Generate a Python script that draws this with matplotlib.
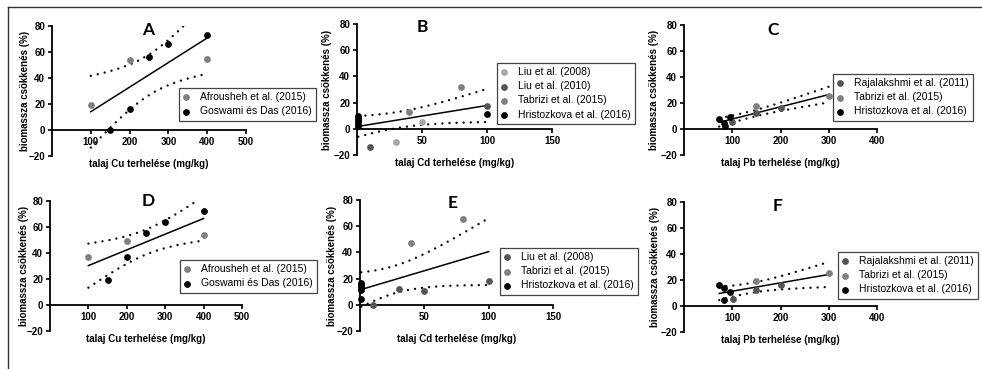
import numpy as np
import matplotlib
matplotlib.use("Agg")
import matplotlib.pyplot as plt
from matplotlib.lines import Line2D

plt.rcParams['font.family'] = ['Liberation Sans', 'DejaVu Sans']

W, H = 982, 369

# --- data ---
# A / D : Cu
cu_afr_x = [100, 200, 400]
a_afr_y = [19, 54, 54.5]
cu_gos_x = [150, 200, 250, 300, 400]
a_gos_y = [0, 16.5, 56, 66.5, 73]
d_afr_y = [37, 49, 53.5]
d_gos_y = [19.5, 37, 55.5, 63.5, 72.5]

# B : Cd
b_liu08_x = [30, 50]
b_liu08_y = [-10, 5.5]
b_liu10_x = [10, 100]
b_liu10_y = [-14, 17.5]
b_tab_x = [40, 80]
b_tab_y = [12.5, 32]
b_hri_x = [1, 1, 1, 1, 1, 1, 100]
b_hri_y = [9.5, 8, 7, 5, 3, 2, 11]

# E : Cd
e_liu08_x = [10, 30, 50, 100]
e_liu08_y = [0, 12, 10.5, 18]
e_tab_x = [40, 80]
e_tab_y = [47, 65.5]
e_hri_x = [1, 1, 1, 1, 1, 1]
e_hri_y = [17, 16, 14.5, 13, 11, 4.5]

# C / F : Pb
c_raj_x = [100, 150, 200]
c_raj_y = [5.5, 12, 16.5]
c_tab_x = [150, 300]
c_tab_y = [17.5, 25.5]
c_hri_x = [73, 83, 85, 95]
c_hri_y = [7.5, 4.5, 2, 9.5]
f_raj_x = [102, 150, 200]
f_raj_y = [5.5, 12, 16]
f_tab_x = [150, 300]
f_tab_y = [19, 25.5]
f_hri_x = [73, 83, 95, 83]
f_hri_y = [16.5, 14, 11, 4.5]

# 95% two sided t values by degrees of freedom
t95 = {6: 2.447, 7: 2.365, 10: 2.228, 11: 2.201}

GRAY = '#808080'
LIGHT = '#a8a8a8'
DARK = '#555555'
BLACK = '#000000'

ylab = 'biomassza csökkenés (%)'


def px_axes(l, t, r, b):
    return fig.add_axes([l / W, 1 - b / H, (r - l) / W, (b - t) / H])


def fit_band(ax, xs, ys):
    x = np.array(xs, dtype=float)
    y = np.array(ys, dtype=float)
    n = len(x)
    slope, icpt = np.polyfit(x, y, 1)
    res = y - (slope * x + icpt)
    s = np.sqrt(np.sum(res ** 2) / (n - 2))
    sxx = np.sum((x - x.mean()) ** 2)
    xx = np.linspace(x.min(), x.max(), 200)
    yy = slope * xx + icpt
    half = t95[n - 2] * s * np.sqrt(1 / n + (xx - x.mean()) ** 2 / sxx)
    ax.plot(xx, yy, color='black', lw=1.1, zorder=2)
    for band in (yy + half, yy - half):
        ax.plot(xx, band, color='black', lw=1.7, linestyle=(0, (0.01, 3.0)),
                dash_capstyle='round', zorder=2)


def setup(ax, xmax, xticks, xlab, letter, lx, ly, ypx):
    ax.set_xlim(0, xmax)
    ax.set_ylim(-20, 80)
    ax.spines['top'].set_visible(False)
    ax.spines['right'].set_visible(False)
    ax.spines['bottom'].set_position(('data', 0))
    for sp in ('left', 'bottom'):
        ax.spines[sp].set_linewidth(1.3)
    ax.set_xticks(xticks)
    ax.set_yticks([-20, 0, 20, 40, 60, 80])
    ax.tick_params(direction='out', length=3, width=1.2, labelsize=7, pad=2)
    for lab in ax.get_xticklabels() + ax.get_yticklabels():
        lab.set_fontweight('bold')
    ax.patch.set_alpha(0)
    ax.text(0.5, -0.02, xlab, transform=ax.transAxes, ha='center', va='top',
            fontsize=7, fontweight='bold')
    ax.text(-ypx / (ax.get_position().width * W), 0.5, ylab, transform=ax.transAxes,
            rotation=90, ha='center', va='center', fontsize=7, fontweight='bold')
    ax.text(lx, ly, letter, ha='center', va='center', fontsize=12.5,
            fontweight='bold', family=['Lato', 'DejaVu Sans'])


def dots(ax, x, y, c, label):
    ax.scatter(x, y, s=24, color=c, label=label, zorder=4, clip_on=False,
               linewidths=0)


def legend(ax, lpx, tpx):
    leg = ax.legend(loc='upper left', bbox_to_anchor=(lpx / W, 1 - tpx / H),
                    bbox_transform=fig.transFigure, borderaxespad=0,
                    fontsize=7.5, scatterpoints=1, handlelength=0.5,
                    handletextpad=1.1, labelspacing=0.4, borderpad=0.4,
                    fancybox=False, framealpha=1)
    leg.get_frame().set_edgecolor('#444444')
    leg.get_frame().set_linewidth(0.9)


fig = plt.figure(figsize=(W / 100, H / 100), dpi=100)
fig.patch.set_facecolor('white')

# A
ax = px_axes(52, 26, 246, 156)
dots(ax, cu_afr_x, a_afr_y, GRAY, 'Afrousheh et al. (2015)')
dots(ax, cu_gos_x, a_gos_y, BLACK, 'Goswami és Das (2016)')
fit_band(ax, cu_afr_x + cu_gos_x, a_afr_y + a_gos_y)
setup(ax, 500, [100, 200, 300, 400, 500], 'talaj Cu terhelése (mg/kg)', 'A', 247, 77, 27)
legend(ax, 179, 88)

# B
ax = px_axes(357, 24, 552, 155)
dots(ax, b_liu08_x, b_liu08_y, LIGHT, 'Liu et al. (2008)')
dots(ax, b_liu10_x, b_liu10_y, DARK, 'Liu et al. (2010)')
dots(ax, b_tab_x, b_tab_y, GRAY, 'Tabrizi et al. (2015)')
dots(ax, b_hri_x, b_hri_y, BLACK, 'Hristozkova et al. (2016)')
fit_band(ax, b_liu08_x + b_liu10_x + b_tab_x + b_hri_x,
         b_liu08_y + b_liu10_y + b_tab_y + b_hri_y)
setup(ax, 150, [50, 100, 150], 'talaj Cd terhelése (mg/kg)', 'B', 50.5, 77.5, 30)
legend(ax, 497, 63)

# C
ax = px_axes(684, 25, 877, 155)
dots(ax, c_raj_x, c_raj_y, DARK, 'Rajalakshmi et al. (2011)')
dots(ax, c_tab_x, c_tab_y, GRAY, 'Tabrizi et al. (2015)')
dots(ax, c_hri_x, c_hri_y, BLACK, 'Hristozkova et al. (2016)')
fit_band(ax, c_raj_x + c_tab_x + c_hri_x, c_raj_y + c_tab_y + c_hri_y)
setup(ax, 400, [100, 200, 300, 400], 'talaj Pb terhelése (mg/kg)', 'C', 184, 76.5, 30)
legend(ax, 833, 74)

# D
ax = px_axes(50, 201, 242, 331)
dots(ax, cu_afr_x, d_afr_y, GRAY, 'Afrousheh et al. (2015)')
dots(ax, cu_gos_x, d_gos_y, BLACK, 'Goswami és Das (2016)')
fit_band(ax, cu_afr_x + cu_gos_x, d_afr_y + d_gos_y)
setup(ax, 500, [100, 200, 300, 400, 500], 'talaj Cu terhelése (mg/kg)', 'D', 255, 80, 26)
legend(ax, 180, 260)

# E
ax = px_axes(360, 200, 553, 331)
dots(ax, e_liu08_x, e_liu08_y, DARK, 'Liu et al. (2008)')
dots(ax, e_tab_x, e_tab_y, GRAY, 'Tabrizi et al. (2015)')
dots(ax, e_hri_x, e_hri_y, BLACK, 'Hristozkova et al. (2016)')
fit_band(ax, e_liu08_x + e_tab_x + e_hri_x, e_liu08_y + e_tab_y + e_hri_y)
setup(ax, 150, [50, 100, 150], 'talaj Cd terhelése (mg/kg)', 'E', 72, 77.5, 28)
legend(ax, 500, 248)

# F
ax = px_axes(684, 202, 877, 332)
dots(ax, f_raj_x, f_raj_y, DARK, 'Rajalakshmi et al. (2011)')
dots(ax, f_tab_x, f_tab_y, GRAY, 'Tabrizi et al. (2015)')
dots(ax, f_hri_x, f_hri_y, BLACK, 'Hristozkova et al. (2016)')
fit_band(ax, f_raj_x + f_tab_x + f_hri_x, f_raj_y + f_tab_y + f_hri_y)
setup(ax, 400, [100, 200, 300, 400], 'talaj Pb terhelése (mg/kg)', 'F', 193, 77, 29)
legend(ax, 838, 252)

# outer frame (left and top edges)
fig.add_artist(Line2D([8 / W, 8 / W], [1 - 7 / H, 0], color='#333333', lw=1))
fig.add_artist(Line2D([8 / W, 1], [1 - 7 / H, 1 - 7 / H], color='#333333', lw=1))

fig.savefig('out.png', dpi=100)
